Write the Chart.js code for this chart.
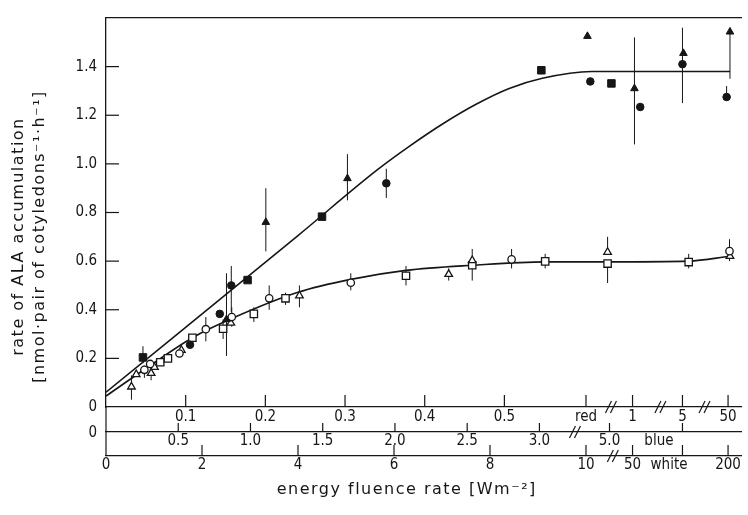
<!DOCTYPE html>
<html>
<head>
<meta charset="utf-8">
<title>ALA accumulation vs energy fluence rate</title>
<script src="https://cdn.jsdelivr.net/npm/chart.js@4.4.1/dist/chart.umd.min.js"></script>
<style>
	html, body { margin: 0; padding: 0; background: #fff; }
	canvas { display: block; }
</style>
</head>
<body>
<canvas id="chart" width="748" height="515"></canvas>
<script>
'use strict';

// x = position on the shared fluence axis (white light, W m-2, below the break)
// y = rate of ALA accumulation, nmol per pair of cotyledons per h

// filled symbols (upper curve)
const fcX = [1.75, 2.37, 2.61, 5.84, 10.09, 11.13, 12.01, 12.93];
const fcY = [0.256, 0.383, 0.50, 0.92, 1.339, 1.234, 1.41, 1.275];
const fcBar = [null, null, [0.39, 0.58], [0.86, 0.98], null, null, [1.25, 1.56], [1.275, 1.32]];

const ftX = [2.51, 3.33, 5.03, 10.03, 11.01, 12.03, 13.0];
const ftY = [0.36, 0.76, 0.94, 1.525, 1.31, 1.455, 1.543];
const ftBar = [[0.21, 0.55], [0.64, 0.90], [0.85, 1.04], null, [1.08, 1.52], null, [1.35, 1.56]];

const fsX = [0.77, 2.95, 4.50, 9.07, 10.53];
const fsY = [0.204, 0.522, 0.783, 1.385, 1.331];
const fsBar = [[0.18, 0.25], null, null, null, null];

// open symbols (lower curve)
const ocX = [0.80, 0.92, 1.53, 2.08, 2.62, 3.40, 5.10, 8.45, 12.99];
const ocY = [0.153, 0.177, 0.22, 0.32, 0.37, 0.447, 0.511, 0.607, 0.641];
const ocBar = [[0.12, 0.17], null, null, [0.27, 0.37], [0.33, 0.41], [0.40, 0.50], [0.48, 0.55], [0.57, 0.65], [0.60, 0.69]];

const otX = [0.53, 0.63, 0.94, 1.01, 1.57, 2.60, 4.03, 7.14, 7.63, 10.45, 13.0];
const otY = [0.083, 0.134, 0.139, 0.164, 0.234, 0.346, 0.458, 0.546, 0.603, 0.637, 0.62];
const otBar = [[0.03, 0.13], null, [0.11, 0.16], null, null, null, [0.41, 0.50], [0.52, 0.57], [0.52, 0.65], [0.64, 0.70], null];

const osX = [1.13, 1.29, 1.80, 2.44, 3.08, 3.74, 6.25, 7.63, 9.15, 10.45, 12.14];
const osY = [0.184, 0.20, 0.285, 0.322, 0.383, 0.447, 0.54, 0.583, 0.599, 0.59, 0.596];
const osBar = [null, null, null, [0.28, 0.36], [0.35, 0.41], [0.42, 0.47], [0.50, 0.58], null, [0.57, 0.63], [0.51, 0.60], [0.57, 0.63]];

// fitted curves
const upperX = [0, 4.0, 5.65, 6.34, 7.02, 7.71, 8.40, 9.09, 10.12, 13.0];
const upperY = [0.061, 0.705, 0.975, 1.075, 1.165, 1.245, 1.31, 1.352, 1.38, 1.38];
const lowerX = [0, 0.77, 1.80, 2.62, 4.0, 5.10, 6.25, 7.63, 9.15, 10.46, 12.14, 13.0];
const lowerY = [0.045, 0.15, 0.285, 0.364, 0.472, 0.525, 0.562, 0.583, 0.597, 0.597, 0.600, 0.62];

// tick labels of the three fluence axes
const redTicks = [0.1, 0.2, 0.3, 0.4, 0.5];
const redBeyond = ['1', '5', '50'];
const blueTicks = [0.5, 1.0, 1.5, 2.0, 2.5, 3.0];
const blueBeyond = ['5.0', ''];
const whiteTicks = [0, 2, 4, 6, 8, 10];
const whiteBeyond = ['50', '', '200'];
const yTicks = [0, 0.2, 0.4, 0.6, 0.8, 1.0, 1.2, 1.4];

const INK = '#161616';
const XMAX = 13.24;
const TICK_FONT = { family: '"Liberation Sans Narrow", "DejaVu Sans Condensed", "Liberation Sans", sans-serif', size: 15 };
const TITLE_FONT = { family: '"DejaVu Sans", sans-serif', size: 16, lineHeight: 1.3 };

// where the axes continue past their breaks
const SLOT = [10.97, 12.01, 12.96];

const redAxis = redTicks.map(v => ({ at: v * 16.6, text: String(v), mark: true }))
	.concat([{ at: 10.0, text: 'red', mark: true }])
	.concat(redBeyond.map((t, i) => ({ at: SLOT[i], text: t, mark: true })));
const blueAxis = blueTicks.map(v => ({ at: v * 3.01, text: v.toFixed(1), mark: true }))
	.concat([{ at: 10.49, text: blueBeyond[0], mark: true },
		{ at: 11.52, text: 'blue', mark: false },
		{ at: SLOT[1], text: blueBeyond[1], mark: true }]);
const whiteAxis = whiteTicks.map(v => ({ at: v, text: String(v), mark: v > 0 }))
	.concat([{ at: SLOT[0], text: whiteBeyond[0], mark: true },
		{ at: 11.73, text: 'white', mark: false },
		{ at: SLOT[1], text: whiteBeyond[1], mark: true },
		{ at: SLOT[2], text: whiteBeyond[2], mark: true }]);

function pts(xs, ys) {
	return xs.map((x, i) => ({ x: x, y: ys[i] }));
}

function bars(groups) {
	let out = [];
	groups.forEach(([xs, bs]) => bs.forEach((b, i) => {
		if (b) out.push({ x: xs[i], y: b[0] }, { x: xs[i], y: b[1] }, { x: xs[i], y: null });
	}));
	return out;
}

function marks(style, filled, r, xs, ys) {
	return {
		type: 'scatter', data: pts(xs, ys), order: 0,
		pointStyle: style, pointRadius: r, pointHoverRadius: r,
		pointBackgroundColor: filled ? INK : '#fff', pointBorderColor: INK,
		pointBorderWidth: filled ? 1 : 1.3
	};
}

function curve(xs, ys) {
	return {
		type: 'line', data: pts(xs, ys), order: 5,
		borderColor: INK, borderWidth: 1.6, pointRadius: 0,
		cubicInterpolationMode: 'monotone', fill: false
	};
}

function xAxis(list, weight, height, pad, extra) {
	return Object.assign({
		type: 'linear', position: 'bottom', weight: weight, min: 0, max: XMAX,
		afterBuildTicks: s => { s.ticks = list.map(t => ({ value: t.at })); },
		afterFit: s => { s.height = height; },
		ticks: {
			autoSkip: false, maxRotation: 0, padding: pad, color: INK, font: TICK_FONT,
			callback: (v, i) => list[i] ? list[i].text : ''
		},
		grid: { display: false, drawTicks: false },
		border: { display: true, color: INK, width: 1.3 }
	}, extra || {});
}

// x = red scale (also carries the data), xb = blue, xw = white
const axisLists = { x: redAxis, xb: blueAxis, xw: whiteAxis };
const markLen = { x: 12, xb: 9, xw: 11 };

const decor = {
	id: 'decor',
	beforeDraw(chart) {
		// wider letter spacing for the axis titles, and centre them on the full axis lines
		Object.values(chart.scales).forEach(s => {
			if (s.$patched) return;
			const draw = s.drawTitle;
			s.drawTitle = function () {
				const ctx = this.ctx;
				ctx.save();
				ctx.letterSpacing = '1.5px';
				if (this.axis === 'y') ctx.translate(0, 24); else ctx.translate(-17, 0);
				draw.call(this);
				ctx.restore();
			};
			s.$patched = true;
		});
	},
	afterDraw(chart) {
		const { ctx, chartArea: a, scales } = chart;
		const line = (x1, y1, x2, y2) => { ctx.beginPath(); ctx.moveTo(x1, y1); ctx.lineTo(x2, y2); ctx.stroke(); };
		ctx.save();
		ctx.strokeStyle = INK;
		ctx.lineWidth = 1.2;

		// inward ticks on the rate axis
		yTicks.forEach(v => {
			if (v > 0) {
				const py = scales.y.getPixelForValue(v);
				line(a.left, py, a.left + 13, py);
			}
		});
		// rate axis runs on down to the last fluence axis
		line(a.left, a.bottom, a.left, scales.xw.top);

		// upward tick marks on the fluence axes
		Object.keys(axisLists).forEach(id => {
			const s = scales[id];
			axisLists[id].forEach(t => {
				if (!t.mark) return;
				const px = s.getPixelForValue(t.at);
				line(px, s.top, px, s.top - markLen[id]);
			});
		});

		// axis breaks
		const brk = (s, v) => {
			const px = s.getPixelForValue(v), py = s.top;
			[-2.5, 2.5].forEach(d => line(px + d - 3, py + 6, px + d + 3, py - 6));
		};
		[10.52, 11.55, 12.47].forEach(v => brk(scales.x, v));
		brk(scales.xb, 9.77);
		brk(scales.xw, 10.56);

		// zero of the blue axis
		ctx.fillStyle = INK;
		ctx.font = TICK_FONT.size + 'px ' + TICK_FONT.family;
		ctx.textAlign = 'right';
		ctx.textBaseline = 'middle';
		ctx.fillText('0', a.left - 9, scales.xb.top + 1);
		ctx.restore();
	}
};

new Chart(document.getElementById('chart'), {
	type: 'scatter',
	data: {
		datasets: [
			{
				type: 'line', data: bars([[fcX, fcBar], [ftX, ftBar], [fsX, fsBar], [ocX, ocBar], [otX, otBar], [osX, osBar]]),
				order: 10, borderColor: INK, borderWidth: 1, pointRadius: 0, spanGaps: false, fill: false
			},
			curve(upperX, upperY),
			curve(lowerX, lowerY),
			marks('circle', true, 3.8, fcX, fcY),
			marks('triangle', true, 4.4, ftX, ftY),
			marks('rect', true, 5.3, fsX, fsY),
			marks('circle', false, 3.7, ocX, ocY),
			marks('triangle', false, 4.4, otX, otY),
			marks('rect', false, 5.2, osX, osY)
		]
	},
	options: {
		responsive: false,
		animation: false,
		devicePixelRatio: 1,
		events: [],
		layout: { padding: { top: 12, left: 0, right: 0, bottom: 0 } },
		plugins: { legend: { display: false }, tooltip: { enabled: false } },
		scales: {
			x: xAxis(redAxis, 0, 25, 1),
			xb: xAxis(blueAxis, 1, 24, 0),
			xw: xAxis(whiteAxis, 2, 59, 0, {
				title: {
					display: true, text: 'energy fluence rate [Wm⁻²]', color: INK,
					font: TITLE_FONT, padding: { top: 0, bottom: 14.6 }
				}
			}),
			x2: {
				type: 'linear', position: 'top', min: 0, max: 1,
				afterFit: s => { s.height = 0; },
				ticks: { display: false },
				grid: { display: false, drawTicks: false },
				border: { display: true, color: INK, width: 1.3 }
			},
			y: {
				type: 'linear', position: 'left', min: 0, max: 1.6,
				afterFit: s => { s.width = 106; },
				afterBuildTicks: s => { s.ticks = yTicks.map(v => ({ value: v })); },
				ticks: {
					padding: 9, color: INK, font: TICK_FONT,
					callback: v => v === 0 ? '0' : v.toFixed(1)
				},
				grid: { display: false, drawTicks: false },
				border: { display: true, color: INK, width: 1.3 },
				title: {
					display: true, color: INK, font: TITLE_FONT, padding: { top: 8.6 },
					text: ['rate of ALA accumulation', '[nmol·pair of cotyledons⁻¹·h⁻¹]']
				}
			}
		}
	},
	plugins: [decor]
});
</script>
</body>
</html>
